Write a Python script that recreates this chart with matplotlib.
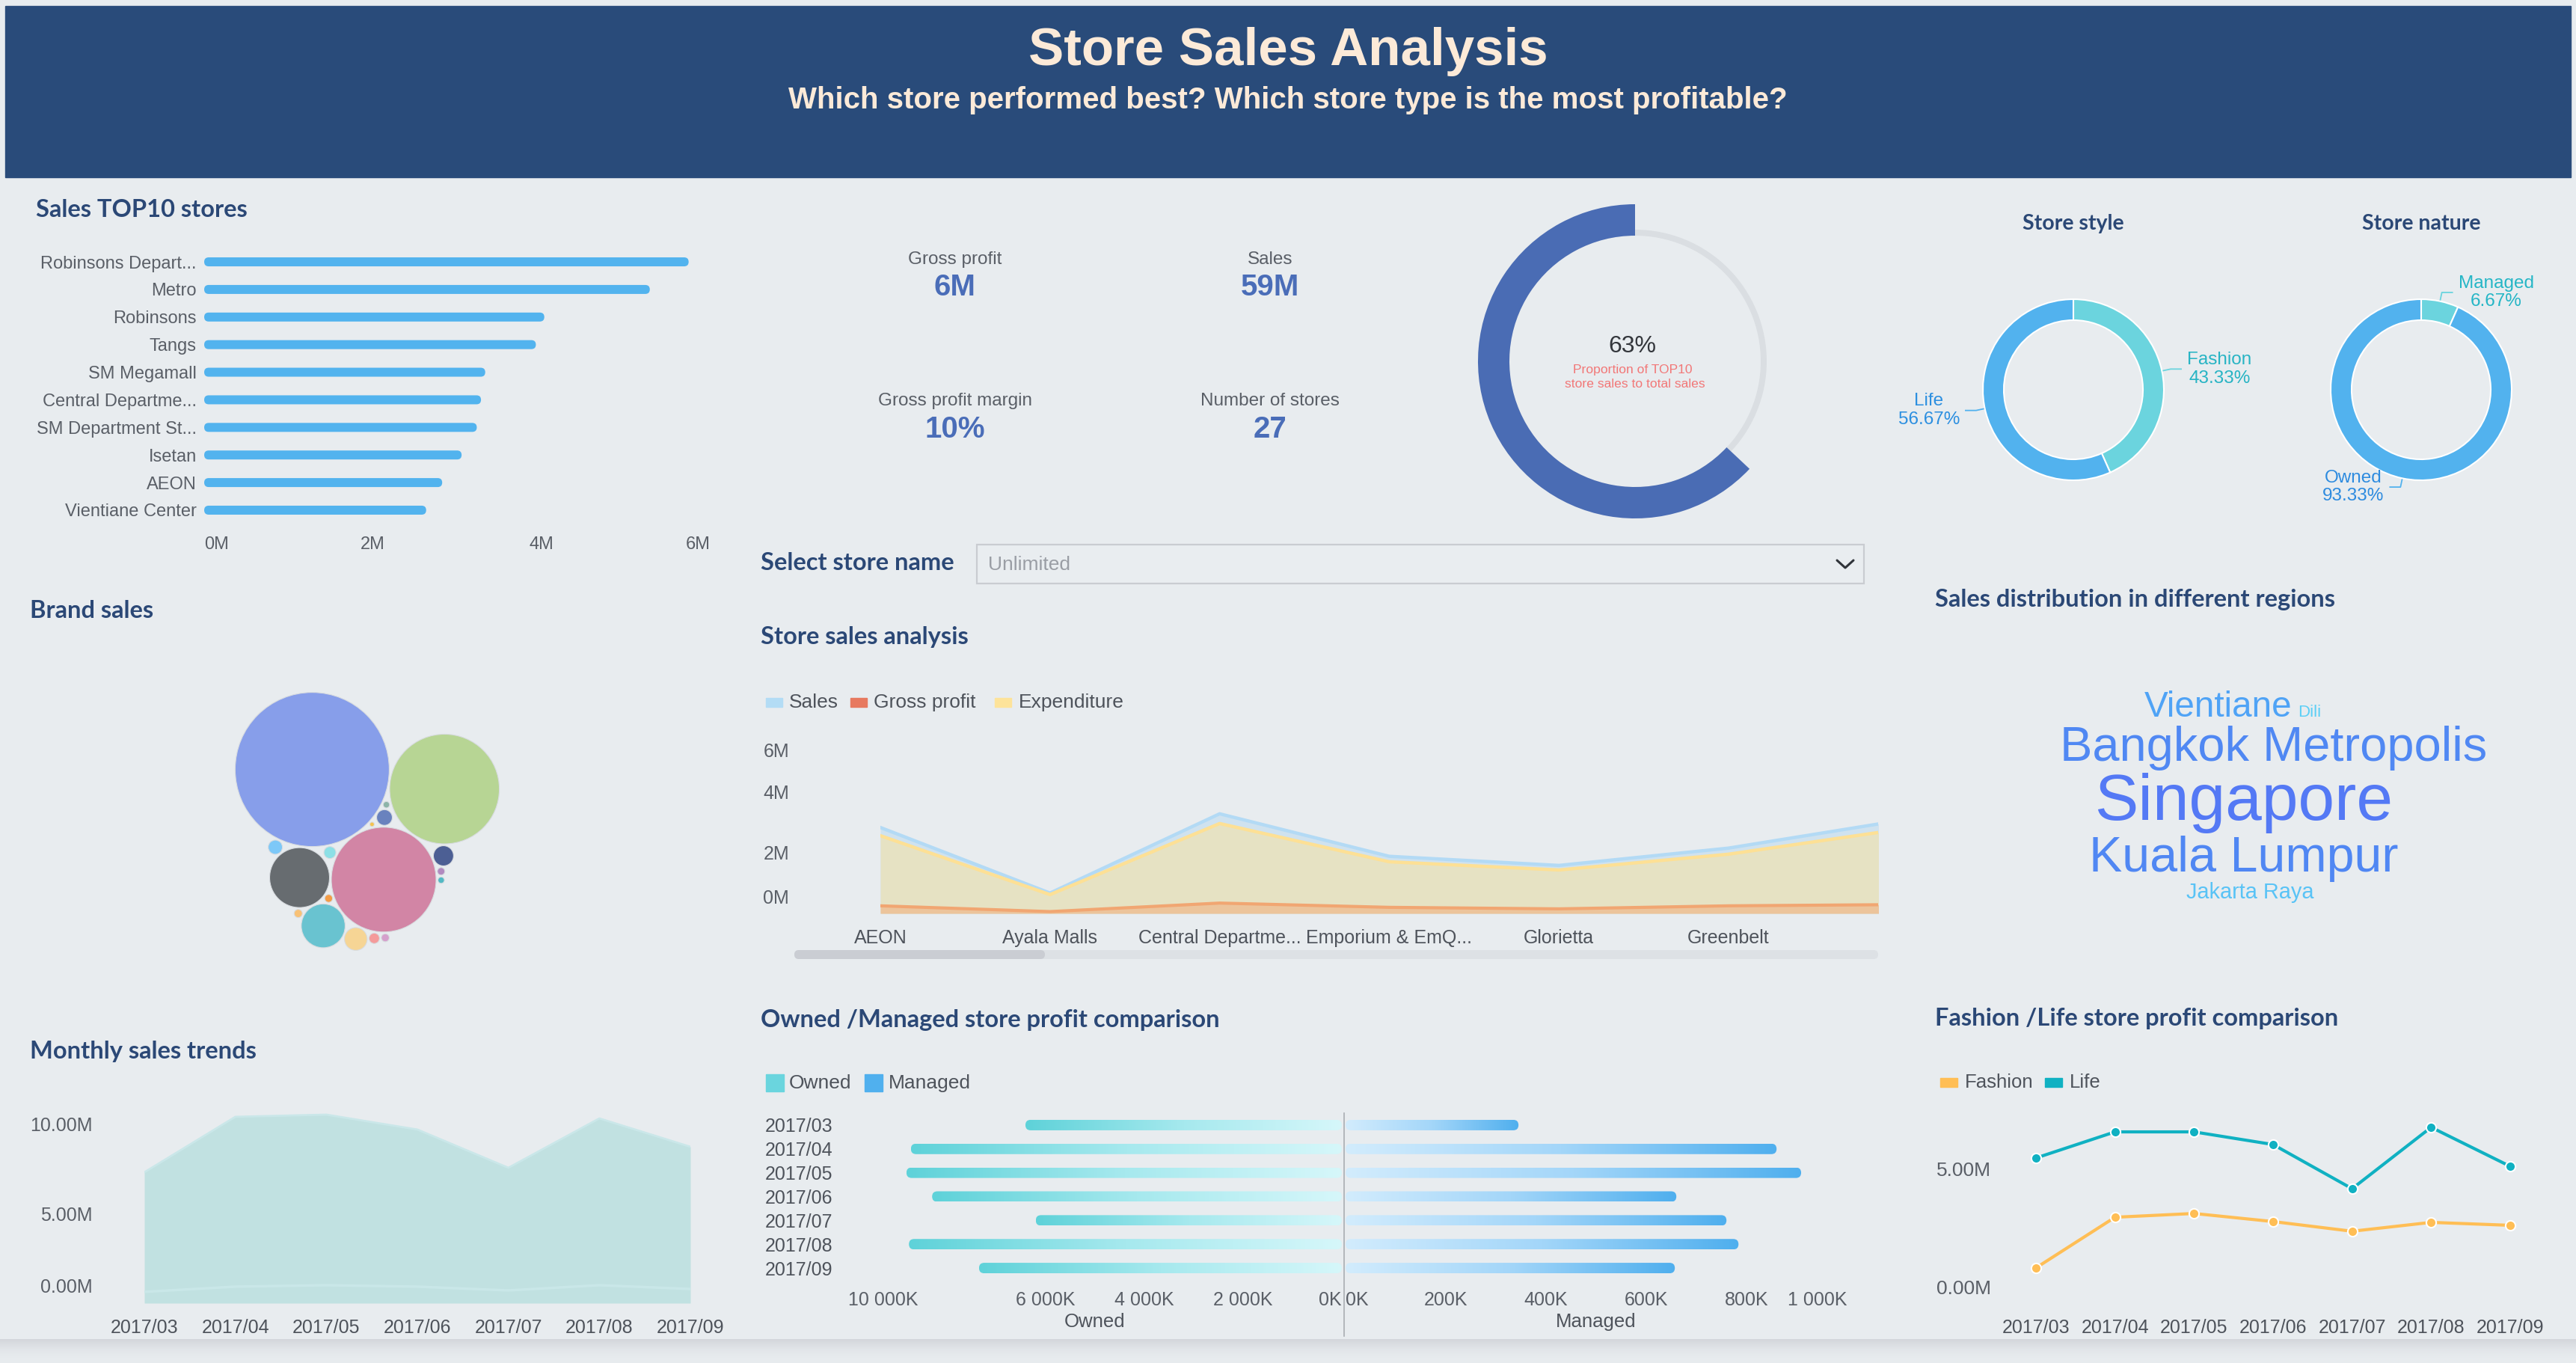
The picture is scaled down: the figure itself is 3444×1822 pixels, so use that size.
import numpy as np
import matplotlib
matplotlib.use('Agg')
import matplotlib.pyplot as plt
from matplotlib.patches import Rectangle, FancyBboxPatch, Circle
from matplotlib.transforms import ScaledTranslation
from matplotlib.colors import LinearSegmentedColormap

plt.rcParams['font.family'] = ['Liberation Sans', 'DejaVu Sans']

# ------------------------------------------------------------------ data
top10_stores = ['Robinsons Depart...', 'Metro', 'Robinsons', 'Tangs', 'SM Megamall',
                'Central Departme...', 'SM Department St...', 'Isetan', 'AEON', 'Vientiane Center']
top10_sales = [5.74, 5.28, 4.03, 3.93, 3.33, 3.28, 3.23, 3.05, 2.82, 2.63]   # M

kpi_labels = ['Gross profit', 'Sales', 'Gross profit margin', 'Number of stores']
kpi_values = ['6M', '59M', '10%', '27']
top10_share = 63  # %

style_labels = ['Fashion', 'Life']
style_share = [43.33, 56.67]
nature_labels = ['Managed', 'Owned']
nature_share = [6.67, 93.33]

brand_sales = [25.84, 13.09, 11.94, 3.90, 2.09, 0.563, 0.443, 0.268, 0.219,
               0.156, 0.119, 0.073, 0.068, 0.068, 0.061, 0.045, 0.045, 0.022]  # M
brand_colors = ['#879EEA', '#B7D594', '#D285A5', '#676C70', '#69C3D0', '#F6D595',
                '#4C5F94', '#6982BE', '#7DC8F8', '#8DE0E6', '#F49B9B', '#F8C176',
                '#F39C46', '#D5A0CC', '#B28AC0', '#8DB4A8', '#52B9C4', '#F5C24F']

store_names = ['AEON', 'Ayala Malls', 'Central Departme...', 'Emporium & EmQ...',
               'Glorietta', 'Greenbelt', 'Isetan']
store_sales = [2.83, 0.67, 3.28, 1.88, 1.58, 2.15, 3.05]
store_expenditure = [2.56, 0.62, 2.96, 1.70, 1.43, 1.95, 2.76]
store_profit = [0.25, 0.06, 0.34, 0.20, 0.15, 0.25, 0.29]

regions = ['Singapore', 'Bangkok Metropolis', 'Kuala Lumpur', 'Vientiane', 'Jakarta Raya', 'Dili']
region_sales = [20.5, 13.8, 14.2, 8.6, 3.0, 1.0]

months = ['2017/03', '2017/04', '2017/05', '2017/06', '2017/07', '2017/08', '2017/09']
monthly_sales = [7.29, 10.38, 10.50, 9.67, 7.54, 10.29, 8.71]
monthly_profit = [0.63, 0.92, 1.00, 0.92, 0.71, 1.00, 0.79]

owned_profit_k = [6410, 8730, 8820, 8300, 6200, 8770, 7350]
managed_profit_k = [345, 860, 909, 660, 760, 784, 657]

fashion_profit = [1.31, 3.19, 3.33, 3.03, 2.67, 3.00, 2.89]
life_profit = [5.39, 6.36, 6.36, 5.89, 4.25, 6.53, 5.08]

# ------------------------------------------------------------------ style
W, H, DPI = 3444, 1822, 100
BG = '#E8ECEF'
HEADER = '#294B7A'
CREAM = '#FCEAD8'
TITLE_C = '#2B4876'
TICK_C = '#5A5F67'
TITLE_FONT = ['Lato', 'DejaVu Sans']

fig = plt.figure(figsize=(W / DPI, H / DPI), dpi=DPI, facecolor=BG)
bg = fig.add_axes([0, 0, 1, 1], zorder=0)
bg.set_xlim(0, W)
bg.set_ylim(H, 0)
bg.axis('off')
bg.set_autoscale_on(False)


def ax_px(x0, y0, x1, y1):
    a = fig.add_axes([x0 / W, 1 - y1 / H, (x1 - x0) / W, (y1 - y0) / H], zorder=2)
    a.set_facecolor('none')
    for s in a.spines.values():
        s.set_visible(False)
    a.tick_params(length=0, labelcolor=TICK_C, labelsize=18)
    return a


def title(x, y, s, ha='left', size=23.5):
    bg.text(x, y, s, ha=ha, va='center', fontsize=size, fontweight='bold',
            color=TITLE_C, family=TITLE_FONT)


def shift(label, dy_px=0, dx_px=0):
    label.set_transform(label.get_transform() +
                        ScaledTranslation(dx_px / DPI, dy_px / DPI, fig.dpi_scale_trans))


def round_bar(ax, v, yc, h_px, color=None, cmap=None):
    xl, yl = ax.get_xlim(), ax.get_ylim()
    pxx = ax.bbox.width / abs(xl[1] - xl[0])
    pxy = ax.bbox.height / abs(yl[1] - yl[0])
    hd = h_px / pxy
    r = (h_px / 2) / pxx
    p = FancyBboxPatch((0, yc - hd / 2), v, hd,
                       boxstyle=f"round,pad=0,rounding_size={r}",
                       mutation_aspect=pxx / pxy,
                       facecolor=color if color else 'none', edgecolor='none')
    ax.add_patch(p)
    if cmap is not None:
        grad = np.linspace(0, 1, 256).reshape(1, -1)
        im = ax.imshow(grad, extent=(0, v, yc - hd / 2, yc + hd / 2), aspect='auto',
                       cmap=cmap, interpolation='bicubic')
        im.set_clip_path(p)
    ax.set_xlim(xl)
    ax.set_ylim(yl)


# ------------------------------------------------------------------ header
bg.add_patch(Rectangle((7, 8), 3430, 229, color=HEADER, zorder=1))
bg.text(1722, 69, 'Store Sales Analysis', ha='center', va='center', fontsize=51,
        fontweight='bold', color=CREAM, zorder=2)
bg.text(1722, 134, 'Which store performed best? Which store type is the most profitable?',
        ha='center', va='center', fontsize=29, fontweight='bold', color=CREAM, zorder=2)

# bottom shadow
shade = LinearSegmentedColormap.from_list('shade', [(0.91, 0.925, 0.937, 0.0), (0.83, 0.84, 0.86, 1.0)])
bg.imshow(np.linspace(0, 1, 60).reshape(-1, 1), extent=(0, W, H, 1790), aspect='auto',
          cmap=shade, origin='lower', zorder=0.5)
bg.set_xlim(0, W)
bg.set_ylim(H, 0)

# ------------------------------------------------------------------ Sales TOP10
title(48, 281, 'Sales TOP10 stores')
ax1 = ax_px(273, 331.6, 950, 700.4)
ax1.set_xlim(0, 6)
ax1.set_ylim(len(top10_stores) - 0.5, -0.5)
for i, v in enumerate(top10_sales):
    round_bar(ax1, v, i, 12, color='#52B3EE')
ax1.set_yticks(range(len(top10_stores)), top10_stores)
ax1.set_xticks([0, 2, 4, 6], ['0M', '2M', '4M', '6M'])
ax1.tick_params(axis='y', pad=7.2, labelsize=17)
ax1.tick_params(axis='x', pad=12, labelsize=17)
xt = ax1.get_xticklabels()
xt[0].set_ha('left')
xt[-1].set_ha('right')

# ------------------------------------------------------------------ KPIs
kpi_cols = [1277, 1698]
kpi_rows = [(347, 384), (536, 574)]
for k, (lab, val) in enumerate(zip(kpi_labels, kpi_values)):
    cx = kpi_cols[k % 2]
    ly, vy = kpi_rows[k // 2]
    bg.text(cx, ly, lab, ha='center', va='center', fontsize=17.5, color='#5A5F67')
    bg.text(cx, vy, val, ha='center', va='center', fontsize=29, color='#4A6DB8', fontweight='bold')

# ------------------------------------------------------------------ TOP10 share donut
R0 = 210
ax3 = ax_px(2186 - 1.1 * R0, 483 - 1.1 * R0, 2186 + 1.1 * R0, 483 + 1.1 * R0)
ax3.pie([1], colors=['#DADEE2'], radius=176 / R0, startangle=90,
        wedgeprops=dict(width=8 / R0, edgecolor='none'))
ax3.pie([top10_share, 100 - top10_share], colors=['#4A6CB4', 'none'], radius=1,
        startangle=90, counterclock=True, wedgeprops=dict(width=(210 - 168) / R0, edgecolor='none'))
ax3.set_xlim(-1.1, 1.1)
ax3.set_ylim(-1.1, 1.1)
ax3.set_aspect('auto')
bg.text(2182, 463, f'{top10_share}%', ha='center', va='center', fontsize=23, color='#33363B')
bg.text(2183, 494, 'Proportion of TOP10', ha='center', va='center', fontsize=12.6, color='#F27777')
bg.text(2186, 514, 'store sales to total sales', ha='center', va='center', fontsize=12.6, color='#F27777')


# ------------------------------------------------------------------ Store style / nature
def ring(cx, cy, shares, labels, colors, txt_colors, ttl):
    r = 121
    a = ax_px(cx - 1.1 * r, cy - 1.1 * r, cx + 1.1 * r, cy + 1.1 * r)
    wedges, _ = a.pie(shares, colors=colors, startangle=90, counterclock=False, radius=1,
                      wedgeprops=dict(width=28 / r, edgecolor='white', linewidth=1.5))
    a.set_xlim(-1.1, 1.1)
    a.set_ylim(-1.1, 1.1)
    a.set_aspect('auto')
    u = 1 / r
    for w, lab, sh, col, tc in zip(wedges, labels, shares, colors, txt_colors):
        ang = np.deg2rad((w.theta1 + w.theta2) / 2)
        d = np.array([np.cos(ang), np.sin(ang)])
        p1 = d * (1 + 2 * u)
        p2 = d * (1 + 12 * u)
        sgn = 1 if d[0] >= 0 else -1
        p3 = p2 + np.array([sgn * 14 * u, 0])
        a.plot([p1[0], p2[0], p3[0]], [p1[1], p2[1], p3[1]], color=col, lw=1.3, clip_on=False)
        a.text(p3[0] + sgn * 8 * u, p3[1], f'{lab}\n{sh:.2f}%', ha='left' if sgn > 0 else 'right',
               va='center', multialignment='center', fontsize=17.5, color=tc, linespacing=1.15)
    title(cx, 299, ttl, ha='center', size=20.5)


ring(2772, 521, style_share, style_labels, ['#6BD4DE', '#52B2EE'], ['#27B4C4', '#2C8FE0'], 'Store style')
ring(3237, 521, nature_share, nature_labels, ['#6BD4DE', '#52B2EE'], ['#25B6C6', '#2D8BDF'], 'Store nature')


# ------------------------------------------------------------------ Brand sales (packed bubbles)
def tangent_points(p1, d1, p2, d2):
    dx, dy = p2[0] - p1[0], p2[1] - p1[1]
    d = np.hypot(dx, dy)
    if d == 0 or d > d1 + d2 or d < abs(d1 - d2):
        return []
    a = (d1 ** 2 - d2 ** 2 + d ** 2) / (2 * d)
    h = np.sqrt(max(d1 ** 2 - a ** 2, 0))
    xm, ym = p1[0] + a * dx / d, p1[1] + a * dy / d
    return [(xm + h * dy / d, ym - h * dx / d), (xm - h * dy / d, ym + h * dx / d)]


def pack(radii, gap, angle, bias):
    """Greedy front packing (y grows downwards): each circle is put tangent to two
    placed circles, as close as possible to a point near the weighted centre."""
    order = sorted(range(len(radii)), key=lambda i: -radii[i])
    pos = {}
    for n, i in enumerate(order):
        r = radii[i]
        if n == 0:
            pos[i] = (0.0, 0.0)
            continue
        if n == 1:
            d = radii[order[0]] + r + gap
            pos[i] = (d * np.cos(angle), d * np.sin(angle))
            continue
        placed = order[:n]
        A = np.array([radii[k] ** 2 for k in placed])
        P = np.array([pos[k] for k in placed])
        tgt = (A[:, None] * P).sum(0) / A.sum() + np.array(bias)
        best, bestd = None, np.inf
        for ai in range(n):
            for bi in range(ai + 1, n):
                ka, kb = placed[ai], placed[bi]
                for c in tangent_points(pos[ka], radii[ka] + r + gap, pos[kb], radii[kb] + r + gap):
                    if all(np.hypot(c[0] - pos[k][0], c[1] - pos[k][1]) >= radii[k] + r + gap - 1e-6
                           for k in placed):
                        dd = np.hypot(c[0] - tgt[0], c[1] - tgt[1])
                        if dd < bestd:
                            best, bestd = c, dd
        pos[i] = best
    return pos


title(40, 817, 'Brand sales')
BX0, BY0, BX1, BY1 = 0, 860, 1000, 1330
ax2 = ax_px(BX0, BY0, BX1, BY1)
ax2.set_xlim(BX0, BX1)
ax2.set_ylim(BY1, BY0)
ax2.set_xticks([])
ax2.set_yticks([])
kscale = 103 / np.sqrt(max(brand_sales))
radii = [kscale * np.sqrt(v) for v in brand_sales]
pos = pack(radii, 2.5, np.deg2rad(8.4), (0, 60))
xs = np.array([pos[i][0] for i in range(len(radii))])
ys = np.array([pos[i][1] for i in range(len(radii))])
rr = np.array(radii)
cx0 = ((xs - rr).min() + (xs + rr).max()) / 2
cy0 = ((ys - rr).min() + (ys + rr).max()) / 2
for i in range(len(radii)):
    ax2.add_patch(Circle((xs[i] - cx0 + 491, ys[i] - cy0 + 1098), rr[i],
                         facecolor=brand_colors[i], edgecolor='#D8DCE0', lw=0.8))

# ------------------------------------------------------------------ Select store / Store sales analysis
title(1017, 753, 'Select store name')
bg.add_patch(Rectangle((1306, 728), 1186, 52, facecolor='#E9EDF0', edgecolor='#C9CCD1', lw=1.6, zorder=1))
bg.text(1321, 755, 'Unlimited', ha='left', va='center', fontsize=19, color='#9A9EA5')
bg.plot([2456, 2467, 2478], [749, 759, 749], color='#30343A', lw=2.2, solid_capstyle='round')

title(1017, 851, 'Store sales analysis')
leg1 = [('Sales', '#B3DCF5', 1024, 1055), ('Gross profit', '#E7795F', 1137, 1168),
        ('Expenditure', '#FDE39A', 1330, 1362)]
for lab, col, sx, tx in leg1:
    bg.add_patch(Rectangle((sx, 933), 22, 12, color=col))
    bg.text(tx, 939, lab, ha='left', va='center', fontsize=19, color='#4E535B')

SPX = 226.8
ax4 = ax_px(1177, 1221 - 6.3 * 40.6, 2511, 1221)
xi = np.arange(len(store_names))
ax4.fill_between(xi, store_sales, 0, color='#CFE2EF', lw=0)
ax4.fill_between(xi, store_expenditure, 0, color='#E6E2C3', lw=0)
ax4.fill_between(xi, store_profit, 0, color='#ECC49B', lw=0)
ax4.plot(xi, store_sales, color='#B3DAF5', lw=3.2)
ax4.plot(xi, store_expenditure, color='#FDE095', lw=3.2)
ax4.plot(xi, store_profit, color='#F1A672', lw=3.0)
ax4.set_xlim(0, (2511 - 1177) / SPX)
ax4.set_ylim(0, 6.3)
ax4.set_xticks(xi[:6], store_names[:6])
ax4.set_yticks([0, 2, 4, 6], ['0M', '2M', '4M', '6M'])
ax4.tick_params(axis='y', pad=87.8)
ax4.tick_params(axis='x', pad=15, labelcolor='#4E535B')
yl4 = ax4.get_yticklabels()
shift(yl4[0], dy_px=22)
shift(yl4[-1], dy_px=-25)
bg.add_patch(FancyBboxPatch((1062, 1270), 1449, 12, boxstyle='round,pad=0,rounding_size=6',
                            facecolor='#DDE1E5', edgecolor='none'))
bg.add_patch(FancyBboxPatch((1062, 1270), 335, 12, boxstyle='round,pad=0,rounding_size=6',
                            facecolor='#CACDD3', edgecolor='none'))

# ------------------------------------------------------------------ Word cloud
title(2587, 801, 'Sales distribution in different regions')
renderer = fig.canvas.get_renderer()
vmin, vmax = min(region_sales), max(region_sales)
wc_cmap = LinearSegmentedColormap.from_list('wc', ['#5DCFF6', '#4FA9F6', '#5087F3', '#5479F5'])
texts, fsz = {}, {}
for name, v in zip(regions, region_sales):
    t_norm = (v - vmin) / (vmax - vmin)
    fsz[name] = 16 + 47 * t_norm
    texts[name] = bg.text(0, 0, name, fontsize=fsz[name], color=wc_cmap(t_norm), ha='left', va='baseline')
rows = [['Vientiane', 'Dili'], ['Bangkok Metropolis'], ['Singapore'], ['Kuala Lumpur'], ['Jakarta Raya']]
row_dx = [-15, 40, 0, 0, 8]
widths = {n: texts[n].get_window_extent(renderer).width for n in regions}
fpx = {n: fsz[n] * DPI / 72 for n in regions}
bases, yb = [], 0.0
for ri, row in enumerate(rows):
    asc = max(0.735 * fpx[n] for n in row)
    if ri == 0:
        yb = asc
    else:
        desc_prev = max(0.215 * fpx[n] for n in rows[ri - 1])
        yb = yb + desc_prev + asc + 1
    bases.append(yb)
top = 1060 - bases[-1] / 2 + 2
for ri, row in enumerate(rows):
    total = sum(widths[n] for n in row) + 8 * (len(row) - 1)
    x = 3000 + row_dx[ri] - total / 2
    for n in row:
        texts[n].set_position((x, top + bases[ri]))
        x += widths[n] + 8

# ------------------------------------------------------------------ Monthly sales trends
title(40, 1405, 'Monthly sales trends')
ax5 = ax_px(193, 1742 - 11.75 * 24, 923, 1742)
mi = np.arange(len(months))
ax5.fill_between(mi, monthly_sales, 0, color='#C1E1E1', lw=0)
ax5.plot(mi, monthly_sales, color='#CAE7E9', lw=2)
ax5.plot(mi, monthly_profit, color='#C9E7E8', lw=2.5)
ax5.set_xlim(0, 6)
ax5.set_ylim(0, 11.75)
ax5.set_xticks(mi, months)
ax5.set_yticks([0, 5, 10], ['0.00M', '5.00M', '10.00M'])
ax5.tick_params(axis='y', pad=49.7)
ax5.tick_params(axis='x', pad=15, labelcolor='#4E535B')
shift(ax5.get_yticklabels()[0], dy_px=23)

# ------------------------------------------------------------------ Owned / Managed
title(1017, 1363, 'Owned /Managed store profit comparison')
for lab, col, sx, tx in [('Owned', '#6AD5DE', 1024, 1055), ('Managed', '#50B0EE', 1156, 1188)]:
    bg.add_patch(Rectangle((sx, 1436), 24, 23, color=col))
    bg.text(tx, 1448, lab, ha='left', va='center', fontsize=19, color='#4E535B')

owned_cmap = LinearSegmentedColormap.from_list('own', ['#D6F7FA', '#A6E9EE', '#5ED2D9'])
man_cmap = LinearSegmentedColormap.from_list('man', ['#D2ECFD', '#A3D6F9', '#4FAFEE'])
axL = ax_px(1134, 1488, 1794, 1711)
axR = ax_px(1799, 1488, 2469, 1711)
axL.set_xlim(10000, 0)
axR.set_xlim(0, 1000)
for a in (axL, axR):
    a.set_ylim(len(months) - 0.5, -0.5)
for i, (vo, vm) in enumerate(zip(owned_profit_k, managed_profit_k)):
    round_bar(axL, vo, i, 14, cmap=owned_cmap)
    round_bar(axR, vm, i, 14, cmap=man_cmap)
axL.set_yticks(range(len(months)), months)
axL.tick_params(axis='y', pad=15, labelcolor='#4E535B')
axR.set_yticks([])
axL.set_xticks([10000, 6000, 4000, 2000, 0], ['10 000K', '6 000K', '4 000K', '2 000K', '0K'])
axR.set_xticks([0, 200, 400, 600, 800, 1000], ['0K', '200K', '400K', '600K', '800K', '1 000K'])
for a in (axL, axR):
    a.tick_params(axis='x', pad=10.8)
    lbl = a.get_xticklabels()
    lbl[0].set_ha('left')
    lbl[-1].set_ha('right')
bg.plot([1797, 1797], [1488, 1786], color='#A9ADB2', lw=1.2)
bg.text(1464, 1767, 'Owned', ha='center', va='center', fontsize=18.5, color='#4E535B')
bg.text(2134, 1767, 'Managed', ha='center', va='center', fontsize=18.5, color='#4E535B')

# ------------------------------------------------------------------ Fashion / Life
title(2587, 1362, 'Fashion /Life store profit comparison')
for lab, col, sx, tx in [('Fashion', '#FFBE55', 2594, 2627), ('Life', '#10B1C2', 2734, 2767)]:
    bg.add_patch(Rectangle((sx, 1441), 23, 12, color=col))
    bg.text(tx, 1447, lab, ha='left', va='center', fontsize=18.5, color='#4E535B')
ax6 = ax_px(2722, 1742 - 7.3 * 36, 3356, 1742)
ax6.plot(mi, fashion_profit, color='#FFBE55', lw=3, marker='o', ms=9.5, mec='white', mew=1.5, clip_on=False)
ax6.plot(mi, life_profit, color='#10B1C2', lw=3, marker='o', ms=9.5, mec='white', mew=1.5, clip_on=False)
ax6.set_xlim(0, 6)
ax6.set_ylim(0, 7.3)
ax6.set_xticks(mi, months)
ax6.set_yticks([0, 5], ['0.00M', '5.00M'])
ax6.tick_params(axis='y', pad=43.2, labelsize=19)
ax6.tick_params(axis='x', pad=15, labelcolor='#4E535B')
shift(ax6.get_yticklabels()[0], dy_px=22)

fig.savefig('out.png', dpi=DPI, facecolor=BG)
